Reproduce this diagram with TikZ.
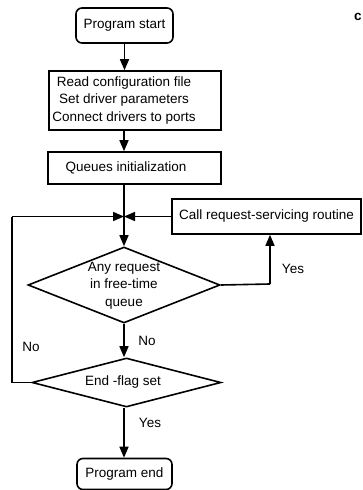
\documentclass[tikz,border=0pt]{standalone}
\usepackage{fontspec}
\setmainfont{Liberation Sans}
\usetikzlibrary{shapes.geometric,arrows.meta}
\begin{document}
\begin{tikzpicture}[x=1pt,y=1pt,
  every node/.style={font=\fontsize{13.5}{17.5}\selectfont},
  ln/.style={line width=1.6pt},
  arr/.style={ln,-{Triangle[length=11pt,width=9pt]}},
  term/.style={draw,ln,rounded corners=6pt,inner sep=0pt},
  procbox/.style={draw,ln,inner sep=0pt},
  dec/.style={draw,ln,diamond,inner sep=0pt},
  lbl/.style={inner sep=0pt}]
\useasboundingbox[fill=white] (0,0) rectangle (363,-490);
% nodes
\node[term,minimum width=97pt,minimum height=35pt] (start) at (124.5,-25.5) {Program start};
\node[procbox,minimum width=172pt,minimum height=59pt] (cfg) at (135,-100.5) {};
\node[align=center,inner sep=0pt] (cfgt) at (124,-100.5) {Read configuration file\\Set driver parameters\\Connect drivers to ports};
\node[procbox,minimum width=173pt,minimum height=32pt] (queue) at (134.5,-168) {};
\node[inner sep=0pt] (queuet) at (126,-168) {Queues initialization};
\coordinate (J) at (124,-216.5);
\node[procbox,minimum width=189pt,minimum height=35pt] (call) at (266.5,-216.5) {Call request-servicing routine};
\node[dec,minimum width=192pt,minimum height=76pt] (d1) at (124,-285) {};
\node[align=center,inner sep=0pt] (d1t) at (124,-285.5) {Any request\\in free-time\\queue};
\node[dec,minimum width=189pt,minimum height=49pt] (d2) at (126.5,-382.5) {};
\node[inner sep=0pt] (d2t) at (123,-382.5) {End -flag set};
\node[term,minimum width=95pt,minimum height=31pt] (endn) at (124.5,-474) {Program end};
\coordinate (L) at (12,-382.5);
\coordinate (Y) at (270,-284);
% labels
\node[lbl] (yes1) at (293,-269) {Yes};
\node[lbl] (no1) at (147,-341) {No};
\node[lbl] (no2) at (31,-347) {No};
\node[lbl] (yes2) at (150,-423) {Yes};
\node[lbl,anchor=west] (cc) at (354,-17) {\textbf{c}};
% connectors
\draw[arr] (start.south) -- (start.south |- cfg.north);
\draw[arr] (J |- cfg.south) -- (J |- queue.north);
\draw[ln] (J |- queue.south) -- (J);
\draw[arr] (J) -- (d1.north);
\draw[arr] (call.west) -- (J);
\draw[ln] (d1.east) -- (Y);
\draw[arr] (Y) -- (Y |- call.south);
\draw[arr] (d1.south) -- (d1.south |- d2.north);
\draw[ln] (d2.west) -- (L) -- (L |- J);
\draw[arr] (L |- J) -- (J);
\draw[arr] (d1.south |- d2.south) -- (d1.south |- endn.north);
\end{tikzpicture}
\end{document}
